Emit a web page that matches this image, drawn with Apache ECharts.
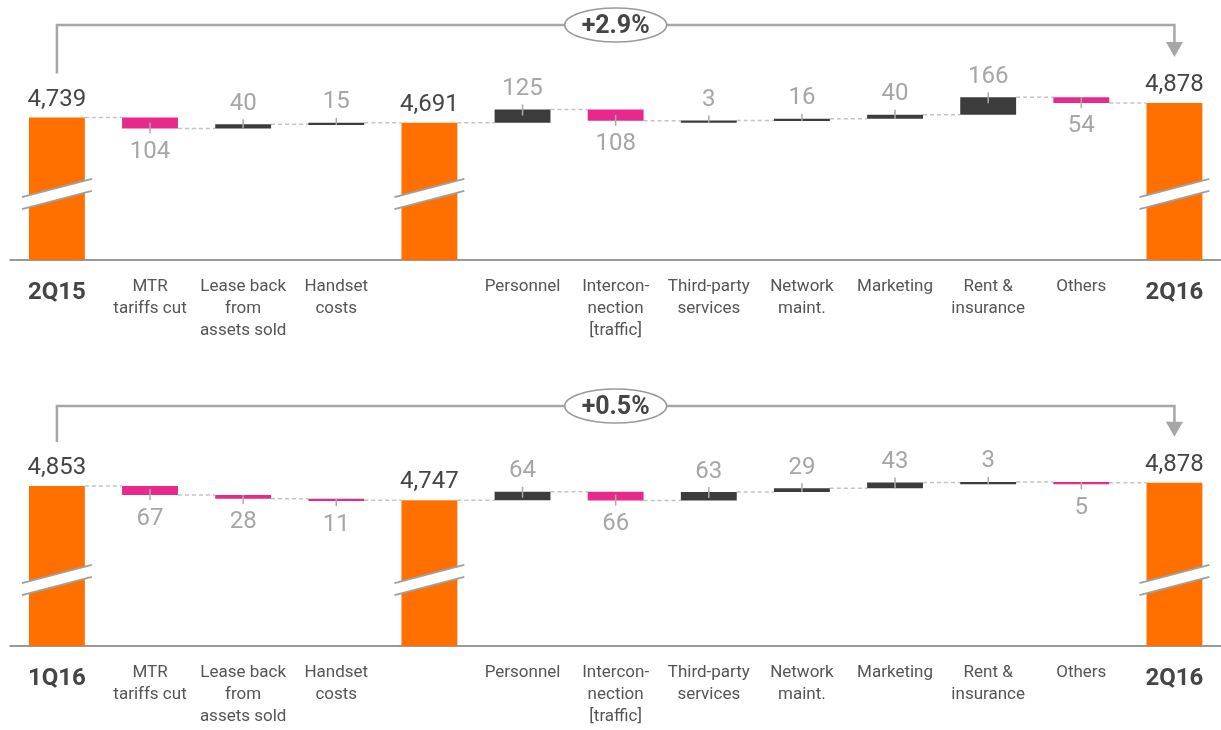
<!DOCTYPE html>
<html>
<head>
<meta charset="utf-8">
<script src="https://cdn.jsdelivr.net/npm/echarts/dist/echarts.min.js"></script>
<style>
  html, body { margin: 0; padding: 0; background: #ffffff; }
  #chart { width: 1221px; height: 730px; }
</style>
</head>
<body>
<div id="chart"></div>
<script>
// ---------------- data ----------------
const categoriesTop = ['2Q15', 'MTR\ntariffs cut', 'Lease back\nfrom\nassets sold', 'Handset\ncosts', '',
  'Personnel', 'Intercon-\nnection\n[traffic]', 'Third-party\nservices', 'Network\nmaint.', 'Marketing',
  'Rent &\ninsurance', 'Others', '2Q16'];
const categoriesBottom = ['1Q16', 'MTR\ntariffs cut', 'Lease back\nfrom\nassets sold', 'Handset\ncosts', '',
  'Personnel', 'Intercon-\nnection\n[traffic]', 'Third-party\nservices', 'Network\nmaint.', 'Marketing',
  'Rent &\ninsurance', 'Others', '2Q16'];
const valuesTop = [4739, -104, 40, 15, 4691, 125, -108, 3, 16, 40, 166, -54, 4878];
const valuesBottom = [4853, -67, -28, -11, 4747, 64, -66, 63, 29, 43, 3, -5, 4878];
const totalIndex = [0, 4, 12];
const changeTop = '+2.9%';
const changeBottom = '+0.5%';

// ---------------- styles ----------------
const ORANGE = '#ff7000';
const PINK = '#e8288a';
const DARK = '#3c3c3c';
const GRAY_LINE = '#a6a6a6';
const FONT = 'Roboto, "Noto Sans", sans-serif';

const panels = [
  { cats: categoriesTop, values: valuesTop, change: changeTop, min: 3383, max: 5621, top: 25, height: 235 },
  { cats: categoriesBottom, values: valuesBottom, change: changeBottom, min: 3668, max: 5446, top: 406, height: 240 }
];

function buildSegments(values, axisMin) {
  let level = 0;
  return values.map((v, i) => {
    if (totalIndex.indexOf(i) >= 0) {
      level = v;
      return [i, axisMin, v, v, 0];
    }
    const start = level;
    level = level + v;
    return [i, Math.min(start, level), Math.max(start, level), level, v >= 0 ? 1 : 2];
  });
}

function makeBarRender(panel) {
  const n = panel.values.length;
  return function (params, api) {
    const i = api.value(0);
    const low = api.value(1), high = api.value(2), end = api.value(3), kind = api.value(4);
    const band = api.size([1, 0])[0];
    const w = band * 0.6;
    const pTop = api.coord([i, high]);
    const pBot = api.coord([i, low]);
    const cx = pTop[0];
    const x0 = cx - w / 2;
    let yTop = pTop[1];
    let yBot = pBot[1];
    if (yBot - yTop < 2.2) { yBot = yTop + 2.2; }
    const h = yBot - yTop;
    const children = [];
    // connector to next bar
    if (i < n - 1) {
      const pe = api.coord([i, end]);
      const pn = api.coord([i + 1, end]);
      children.push({
        type: 'line',
        shape: { x1: x0 + w, y1: pe[1], x2: pn[0] - w / 2, y2: pe[1] },
        style: { stroke: '#c4c4c4', lineWidth: 1.5, lineDash: [4, 3] }
      });
    }
    const color = kind === 0 ? ORANGE : (kind === 1 ? DARK : PINK);
    children.push({
      type: 'rect',
      shape: { x: x0, y: yTop, width: w, height: h },
      style: { fill: color }
    });
    const raw = panel.values[i];
    if (kind === 0) {
      // axis break marks
      const yc = pBot[1] - 66;
      const L = w / 2 + 7;
      const s = 0.262;
      const g = 6;
      children.push({
        type: 'polygon',
        shape: { points: [[cx - L, yc - g + L * s], [cx + L, yc - g - L * s], [cx + L, yc + g - L * s], [cx - L, yc + g + L * s]] },
        style: { fill: '#ffffff' }
      });
      children.push({
        type: 'line',
        shape: { x1: cx - L, y1: yc - g + L * s, x2: cx + L, y2: yc - g - L * s },
        style: { stroke: '#a0a0a0', lineWidth: 2 }
      });
      children.push({
        type: 'line',
        shape: { x1: cx - L, y1: yc + g + L * s, x2: cx + L, y2: yc + g - L * s },
        style: { stroke: '#a0a0a0', lineWidth: 2 }
      });
      children.push({
        type: 'text',
        style: {
          text: raw.toLocaleString('en-US'), x: cx, y: yTop - 18,
          align: 'center', verticalAlign: 'middle',
          fontSize: 24, fontFamily: FONT, fill: '#454545'
        }
      });
    } else if (kind === 1) {
      children.push({
        type: 'line',
        shape: { x1: cx, y1: yTop - 5, x2: cx, y2: yTop + Math.min(6, h) },
        style: { stroke: '#aaaaaa', lineWidth: 1.5 }
      });
      children.push({
        type: 'text',
        style: {
          text: String(Math.abs(raw)), x: cx, y: yTop - 20.5,
          align: 'center', verticalAlign: 'middle',
          fontSize: 24, fontFamily: FONT, fill: '#a6a6a6'
        }
      });
    } else {
      children.push({
        type: 'line',
        shape: { x1: cx, y1: yBot + 5, x2: cx, y2: yBot - Math.min(6, h) },
        style: { stroke: '#aaaaaa', lineWidth: 1.5 }
      });
      children.push({
        type: 'text',
        style: {
          text: String(Math.abs(raw)), x: cx, y: yBot + 23.5,
          align: 'center', verticalAlign: 'middle',
          fontSize: 24, fontFamily: FONT, fill: '#a6a6a6'
        }
      });
    }
    return { type: 'group', children: children };
  };
}

function makeBracketRender(panel) {
  const n = panel.values.length;
  return function (params, api) {
    const p0 = api.coord([0, panel.values[0]]);
    const p1 = api.coord([n - 1, panel.values[n - 1]]);
    const yLine = params.coordSys.y;
    const tipY = p1[1] - 46;
    const headH = 15, headW = 8.5;
    const midX = (p0[0] + p1[0]) / 2;
    return {
      type: 'group',
      children: [
        {
          type: 'polyline',
          shape: { points: [[p0[0], p0[1] - 44], [p0[0], yLine], [p1[0], yLine], [p1[0], tipY - headH + 1]] },
          style: { stroke: GRAY_LINE, lineWidth: 2.5, fill: null }
        },
        {
          type: 'polygon',
          shape: { points: [[p1[0] - headW, tipY - headH], [p1[0] + headW, tipY - headH], [p1[0], tipY]] },
          style: { fill: GRAY_LINE }
        },
        {
          type: 'ellipse',
          shape: { cx: midX, cy: yLine, rx: 51, ry: 17 },
          style: { fill: '#ffffff', stroke: '#9a9a9a', lineWidth: 1.5 }
        },
        {
          type: 'text',
          style: {
            text: panel.change, x: midX, y: yLine + 1.5,
            align: 'center', verticalAlign: 'middle',
            fontSize: 25, fontWeight: 'bold', fontFamily: FONT, fill: '#454545'
          }
        }
      ]
    };
  };
}

const grids = [], xAxes = [], yAxes = [], series = [];
panels.forEach((p, k) => {
  grids.push({ left: 10.33, width: 1213.33, top: p.top, height: p.height });
  xAxes.push({
    type: 'category', gridIndex: k, data: p.cats,
    axisLine: { lineStyle: { color: '#9a9a9a', width: 2 } },
    axisTick: { show: false },
    axisLabel: {
      interval: 0, margin: 16, color: '#555555', fontSize: 17, lineHeight: 22, fontFamily: FONT,
      formatter: function (value, index) {
        if (index === 0 || index === p.cats.length - 1) { return '{b|' + value + '}'; }
        return value;
      },
      rich: { b: { fontSize: 24, fontWeight: 'bold', lineHeight: 34, color: '#454545', fontFamily: FONT } }
    },
    splitLine: { show: false }
  });
  yAxes.push({ type: 'value', gridIndex: k, min: p.min, max: p.max, show: false, splitLine: { show: false } });
  series.push({
    type: 'custom', xAxisIndex: k, yAxisIndex: k,
    renderItem: makeBarRender(p),
    data: buildSegments(p.values, p.min),
    silent: true
  });
  series.push({
    type: 'custom', xAxisIndex: k, yAxisIndex: k,
    renderItem: makeBracketRender(p),
    data: [[0, p.values[0]]],
    silent: true
  });
});

const chart = echarts.init(document.getElementById('chart'), null, { renderer: 'canvas' });
chart.setOption({
  animation: false,
  backgroundColor: '#ffffff',
  textStyle: { fontFamily: FONT },
  grid: grids,
  xAxis: xAxes,
  yAxis: yAxes,
  series: series
});
</script>
</body>
</html>
